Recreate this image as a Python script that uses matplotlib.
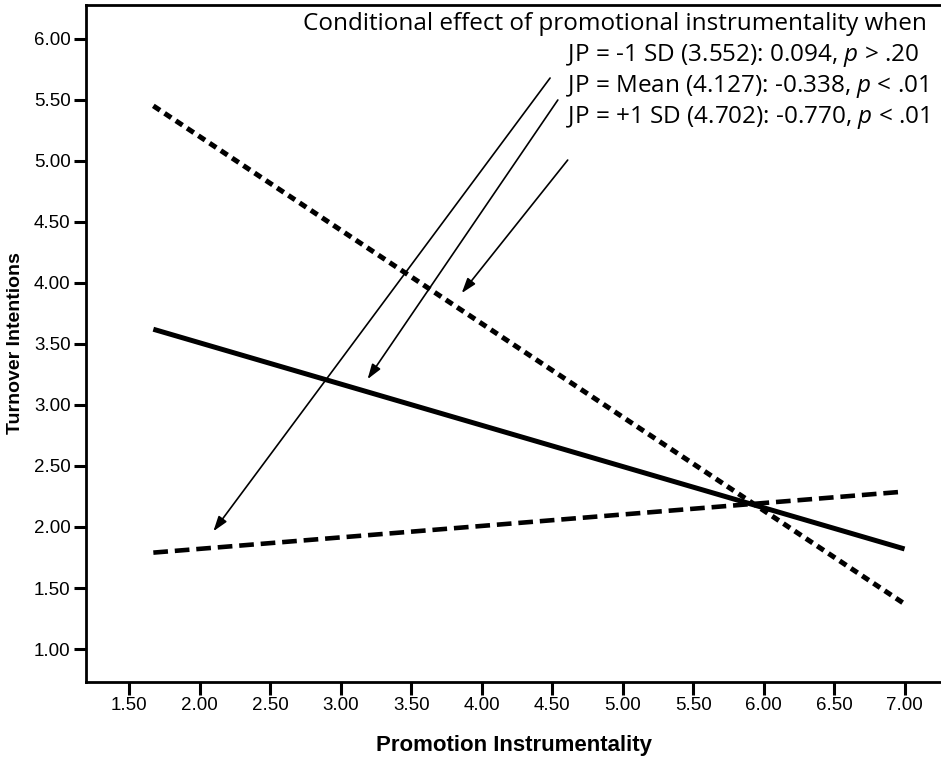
import numpy as np
import matplotlib.pyplot as plt
import matplotlib

matplotlib.rcParams['mathtext.fontset'] = 'custom'
matplotlib.rcParams['mathtext.rm'] = 'Open Sans'
matplotlib.rcParams['mathtext.it'] = 'Open Sans:italic'

# simple slopes: promotion instrumentality -> turnover intentions
pi_range = [1.67, 7.00]
ti_low = [1.79, 2.29]     # JP = -1 SD
ti_mean = [3.62, 1.82]    # JP = Mean
ti_high = [5.45, 1.37]    # JP = +1 SD

xticks = [1.5, 2.0, 2.5, 3.0, 3.5, 4.0, 4.5, 5.0, 5.5, 6.0, 6.5, 7.0]
yticks = [1.0, 1.5, 2.0, 2.5, 3.0, 3.5, 4.0, 4.5, 5.0, 5.5, 6.0]

heading = 'Conditional effect of promotional instrumentality when'
effects = ['JP = -1 SD (3.552): 0.094, $p$ > .20',
           'JP = Mean (4.127): -0.338, $p$ < .01',
           'JP = +1 SD (4.702): -0.770, $p$ < .01']
# arrow (start, tip) in data units
arrows = [((4.485, 5.678), (2.096, 1.965)),
          ((4.540, 5.498), (3.190, 3.211)),
          ((4.610, 5.006), (3.858, 3.916))]

fig = plt.figure(figsize=(9.41, 7.61), dpi=100)
ax = fig.add_axes([0.0914, 0.1038, 0.9100, 0.8896])

ax.plot(pi_range, ti_low, color='black', lw=3.3, dashes=(3.2, 1.5),
        solid_capstyle='butt', dash_capstyle='butt')
ax.plot(pi_range, ti_mean, color='black', lw=3.6, solid_capstyle='butt')
ax.plot(pi_range, ti_high, color='black', lw=3.6, dashes=(1.6, 1.1),
        dash_capstyle='butt')

for (x0, y0), (x1, y1) in arrows:
    ax.annotate('', xy=(x1, y1), xytext=(x0, y0),
                arrowprops=dict(arrowstyle='-|>,head_length=0.9,head_width=0.3',
                                lw=1.2, color='black', shrinkA=0, shrinkB=0))

ax.text(2.734, 6.071, heading, fontsize=17.5, family='Open Sans',
        va='baseline')
for i, s in enumerate(effects):
    ax.text(4.596, 5.817 - i * 0.254, s, fontsize=17.5, family='Open Sans',
            va='baseline')

ax.set_xlim(1.1923, 7.268)
ax.set_ylim(0.730, 6.276)
ax.set_xticks(xticks)
ax.set_yticks(yticks)
ax.set_xticklabels(['%.2f' % v for v in xticks])
ax.set_yticklabels(['%.2f' % v for v in yticks])
ax.tick_params(length=9, width=2.2, labelsize=13.5, pad=2)
for lab in ax.get_xticklabels() + ax.get_yticklabels():
    lab.set_family('Liberation Sans')
for sp in ax.spines.values():
    sp.set_linewidth(2.0)
ax.spines['right'].set_visible(False)

ax.set_xlabel('Promotion Instrumentality', fontsize=16, fontweight='bold',
              family='Liberation Sans', labelpad=15)
ax.set_ylabel('Turnover Intentions', fontsize=14, fontweight='bold',
              family='Liberation Sans', labelpad=7)

plt.savefig('out.png', dpi=100)
